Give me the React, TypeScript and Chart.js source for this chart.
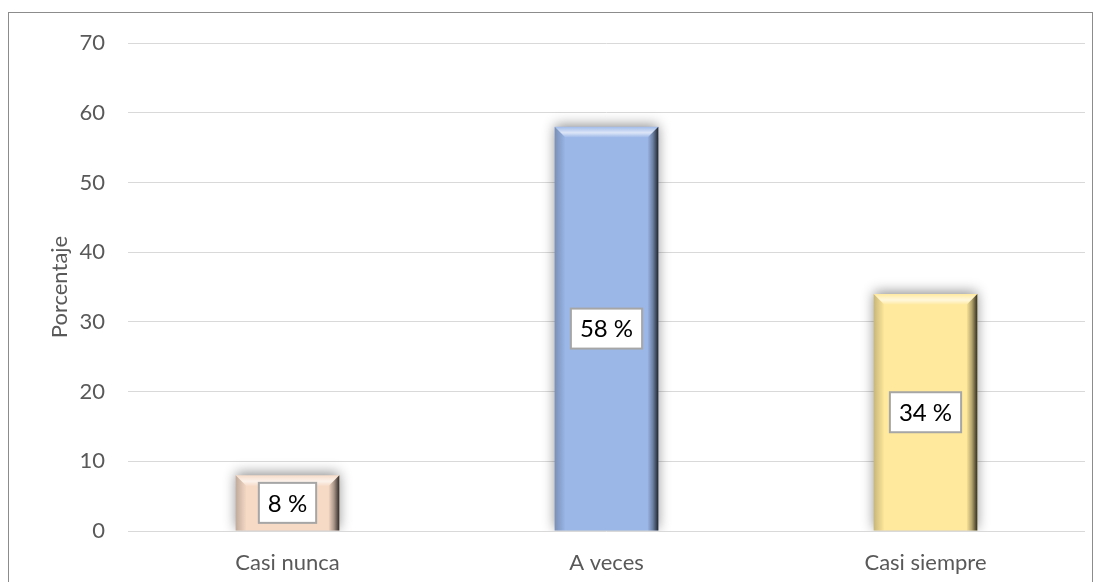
import React, { useEffect, useRef } from 'react';
import { Chart, registerables } from 'chart.js';

Chart.register(...registerables);

const categories = ['Casi nunca', 'A veces', 'Casi siempre'];
const values = [8, 58, 34];
const labelTexts = ['8 %', '58 %', '34 %'];
const barColors = ['#F6DAC6', '#9BB7E8', '#FFE99C'];
const yMin = 0;
const yMax = 70;
const yStep = 10;

const FONT = "Lato, 'Open Sans', sans-serif";

const bevelPlugin = {
  id: 'bevel',
  beforeDatasetDraw(chart: any) {
    const ctx = chart.ctx;
    ctx.save();
    ctx.shadowColor = 'rgba(0,0,0,0.45)';
    ctx.shadowBlur = 12;
    ctx.shadowOffsetX = 0;
    ctx.shadowOffsetY = -2;
  },
  afterDatasetDraw(chart: any, args: any) {
    const ctx = chart.ctx;
    ctx.restore();
    args.meta.data.forEach((el: any) => {
      const p = el.getProps(['x', 'y', 'base', 'width'], true);
      const l = p.x - p.width / 2;
      const r = p.x + p.width / 2;
      const t = p.y;
      const btm = p.base;
      const b = 11;
      ctx.save();
      let g = ctx.createLinearGradient(0, t, 0, t + b);
      g.addColorStop(0, 'rgba(255,255,255,0.05)');
      g.addColorStop(0.55, 'rgba(255,255,255,0.65)');
      g.addColorStop(1, 'rgba(255,255,255,0)');
      ctx.beginPath();
      ctx.moveTo(l, t);
      ctx.lineTo(r, t);
      ctx.lineTo(r - b, t + b);
      ctx.lineTo(l + b, t + b);
      ctx.closePath();
      ctx.fillStyle = g;
      ctx.fill();
      g = ctx.createLinearGradient(l, 0, l + b, 0);
      g.addColorStop(0, 'rgba(0,0,0,0.22)');
      g.addColorStop(1, 'rgba(0,0,0,0)');
      ctx.beginPath();
      ctx.moveTo(l, t);
      ctx.lineTo(l + b, t + b);
      ctx.lineTo(l + b, btm);
      ctx.lineTo(l, btm);
      ctx.closePath();
      ctx.fillStyle = g;
      ctx.fill();
      g = ctx.createLinearGradient(r - b, 0, r, 0);
      g.addColorStop(0, 'rgba(0,0,0,0)');
      g.addColorStop(0.5, 'rgba(0,0,0,0.3)');
      g.addColorStop(1, 'rgba(0,0,0,0.8)');
      ctx.beginPath();
      ctx.moveTo(r, t);
      ctx.lineTo(r, btm);
      ctx.lineTo(r - b, btm);
      ctx.lineTo(r - b, t + b);
      ctx.closePath();
      ctx.fillStyle = g;
      ctx.fill();
      ctx.restore();
    });
  },
};

const boxLabelPlugin = {
  id: 'boxLabels',
  afterDatasetsDraw(chart: any) {
    const ctx = chart.ctx;
    const meta = chart.getDatasetMeta(0);
    ctx.save();
    ctx.font = `24px ${FONT}`;
    ctx.textAlign = 'center';
    ctx.textBaseline = 'middle';
    meta.data.forEach((el: any, i: number) => {
      const p = el.getProps(['x', 'y', 'base'], true);
      const cy = (p.y + p.base) / 2;
      const text = labelTexts[i];
      const tw = ctx.measureText(text).width;
      const w = tw + 18;
      const h = 40;
      ctx.fillStyle = '#FFFFFF';
      ctx.fillRect(p.x - w / 2, cy - h / 2, w, h);
      ctx.strokeStyle = '#A6A6A6';
      ctx.lineWidth = 2;
      ctx.strokeRect(p.x - w / 2, cy - h / 2, w, h);
      ctx.fillStyle = '#000000';
      ctx.fillText(text, p.x, cy + 1);
    });
    ctx.restore();
  },
};

export default function App() {
  const ref = useRef<HTMLCanvasElement | null>(null);

  useEffect(() => {
    if (!ref.current) return;
    const chart = new Chart(ref.current, {
      type: 'bar',
      data: {
        labels: categories,
        datasets: [
          {
            data: values,
            backgroundColor: barColors,
            borderWidth: 0,
            barPercentage: 0.325,
            categoryPercentage: 1,
          },
        ],
      },
      options: {
        animation: false,
        responsive: false,
        devicePixelRatio: 1,
        layout: { padding: { left: 0, right: 7, top: 30, bottom: 0 } },
        plugins: {
          legend: { display: false },
          tooltip: { enabled: false },
        },
        scales: {
          x: {
            grid: { display: false, drawTicks: false },
            border: { display: false },
            ticks: {
              color: '#595959',
              font: { family: FONT, size: 22 },
              padding: 19,
            },
            afterFit: (s: any) => {
              s.height = 72;
            },
          },
          y: {
            min: yMin,
            max: yMax,
            ticks: {
              stepSize: yStep,
              color: '#595959',
              font: { family: FONT, size: 22 },
              padding: 23,
            },
            grid: { color: '#D9D9D9', lineWidth: 1, drawTicks: false },
            border: { display: false },
            title: {
              display: true,
              text: 'Porcentaje',
              color: '#595959',
              font: { family: FONT, size: 22 },
              padding: { top: 38, bottom: 0 },
            },
            afterFit: (s: any) => {
              s.width = 119;
              s.paddingTop = 0;
              s.paddingBottom = 0;
            },
          },
        },
      },
      plugins: [bevelPlugin, boxLabelPlugin],
    });
    return () => chart.destroy();
  }, []);

  return (
    <div
      style={{
        position: 'fixed',
        left: 8,
        top: 12,
        width: 1085,
        height: 600,
        border: '1px solid #8C8C8C',
        boxSizing: 'border-box',
        background: '#FFFFFF',
      }}
    >
      <canvas ref={ref} width={1083} height={590} style={{ display: 'block' }} />
    </div>
  );
}
